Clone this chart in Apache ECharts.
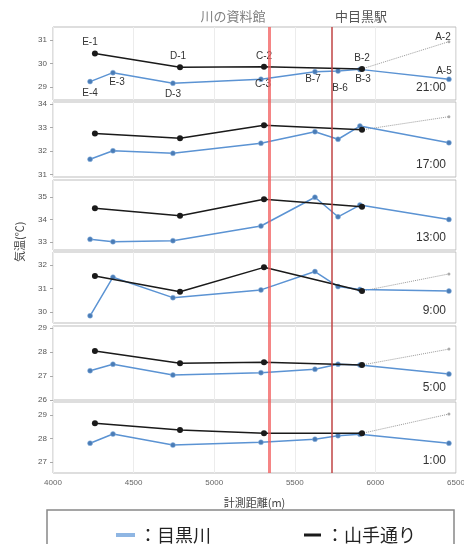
<!DOCTYPE html>
<html>
<head>
<meta charset="utf-8">
<script src="https://cdn.jsdelivr.net/npm/echarts@6.0.0/dist/echarts.min.js"></script>
<style>
html, body { margin: 0; padding: 0; background: #fff; }
#chart { width: 464px; height: 544px; }
</style>
</head>
<body>
<div id="chart"></div>
<script>
// 測定地点と計測距離(m)
var riverNames = ['E-4', 'E-3', 'D-3', 'C-3', 'B-7', 'B-6', 'B-3', 'A-5'];
var riverX = [4230, 4372, 4744, 5290, 5625, 5768, 5904, 6456];
var streetNames = ['E-1', 'D-1', 'C-2', 'B-2'];
var streetX = [4260, 4788, 5309, 5917];
var a2Name = 'A-2';
var a2X = 6456;
var stationNames = ['川の資料館', '中目黒駅'];
var stationX = [5340, 5731];
var times = ['21:00', '17:00', '13:00', '9:00', '5:00', '1:00'];
var xTicks = [4000, 4500, 5000, 5500, 6000, 6500];

// 気温(℃) 目黒川
var river21 = [29.23, 29.61, 29.16, 29.33, 29.65, 29.68, 29.75, 29.33];
var river17 = [31.65, 32.01, 31.90, 32.33, 32.82, 32.50, 33.06, 32.35];
var river13 = [33.12, 33.01, 33.06, 33.71, 34.99, 34.12, 34.64, 34.00];
var river9  = [29.84, 31.48, 30.61, 30.94, 31.72, 31.08, 30.96, 30.89];
var river5  = [27.22, 27.49, 27.04, 27.14, 27.28, 27.49, 27.46, 27.08];
var river1  = [27.80, 28.19, 27.72, 27.84, 27.97, 28.12, 28.18, 27.80];
// 気温(℃) 山手通り
var street21 = [30.43, 29.84, 29.86, 29.77];
var street17 = [32.75, 32.54, 33.10, 32.90];
var street13 = [34.50, 34.17, 34.90, 34.57];
var street9  = [31.53, 30.86, 31.90, 30.89];
var street5  = [28.04, 27.53, 27.57, 27.46];
var street1  = [28.65, 28.36, 28.22, 28.22];
// A-2 (13:00 は欠測)
var a2Temps = [30.93, 33.46, null, 31.62, 28.12, 29.04];
// 各段の目盛
var yTicks = [[29, 30, 31], [31, 32, 33, 34], [33, 34, 35], [30, 31, 32], [26, 27, 28, 29], [27, 28, 29]];

var river = [river21, river17, river13, river9, river5, river1];
var street = [street21, street17, street13, street9, street5, street1];

// 段の配置
var panelTop = [27, 102, 180, 252, 326, 402];
var panelBottom = [100, 177, 250, 323, 400, 473];
var yRange = [[28.447, 31.553], [30.894, 34.085], [32.644, 35.756], [29.532, 32.553], [26, 29.083], [26.532, 29.553]];

var labelPos = {
    'E-1': ['top', [-5, 0]], 'D-1': ['top', [-2, 0]], 'C-2': ['top', [0, 0]], 'B-2': ['top', [0, 0]],
    'E-4': ['bottom', [0, 1]], 'E-3': ['bottom', [4, -1]], 'D-3': ['bottom', [0, 0]],
    'C-3': ['bottom', [2, -6]], 'B-7': ['bottom', [-2, -3]], 'B-6': ['bottom', [2, 6]],
    'B-3': ['bottom', [3, -1]], 'A-5': ['top', [-5, 3]], 'A-2': ['top', [-6, 5]]
};

var blue = '#5b93d3';
var blueDot = '#4a7cb6';
var black = '#1a1a1a';
var numFont = 'Liberation Sans';
var jpFont = 'Noto Sans CJK JP';

function makeData(xs, ys, names, withLabel) {
    var out = [];
    for (var k = 0; k < xs.length; k++) {
        var d = { name: names[k], value: [xs[k], ys[k]] };
        if (withLabel) {
            var p = labelPos[names[k]];
            d.label = { show: true, position: p[0], offset: p[1], formatter: '{b}',
                fontSize: 10, color: '#333', fontFamily: numFont, distance: 3 };
        }
        out.push(d);
    }
    return out;
}

var grids = [], xAxes = [], yAxes = [], series = [], graphics = [];

for (var i = 0; i < 6; i++) {
    grids.push({
        left: 53, right: 8, top: panelTop[i], height: panelBottom[i] - panelTop[i],
        outerBoundsMode: 'none', containLabel: false,
        show: true, borderColor: '#bdbdbd', borderWidth: 1, backgroundColor: '#fff'
    });
    xAxes.push({
        gridIndex: i, type: 'value', min: xTicks[0], max: xTicks[xTicks.length - 1], interval: 500,
        axisLine: { show: false }, axisTick: { show: false },
        splitLine: { show: true, lineStyle: { color: '#ececec' } },
        axisLabel: { show: i === 5, fontSize: 8, color: '#666', fontFamily: numFont, margin: 6,
                     formatter: function (v) { return String(v); } },
        name: i === 5 ? '計測距離(m)' : '', nameLocation: 'middle', nameGap: 24,
        nameTextStyle: { fontSize: 11, color: '#444', fontFamily: jpFont }
    });
    yAxes.push({
        gridIndex: i, type: 'value', min: yRange[i][0], max: yRange[i][1],
        axisLine: { show: false },
        axisTick: { show: true, customValues: yTicks[i], length: 3, lineStyle: { color: '#aaa' } },
        axisLabel: { customValues: yTicks[i], fontSize: 8, color: '#555', fontFamily: numFont, margin: 6 },
        splitLine: { show: false }
    });

    // 目黒川
    series.push({
        name: '目黒川', type: 'line', xAxisIndex: i, yAxisIndex: i,
        data: makeData(riverX, river[i], riverNames, i === 0),
        symbol: 'circle', symbolSize: 5,
        lineStyle: { color: blue, width: 1.5 },
        itemStyle: { color: blueDot, borderColor: '#8fb6e3', borderWidth: 0.5 },
        z: 3
    });
    // 山手通り
    series.push({
        name: '山手通り', type: 'line', xAxisIndex: i, yAxisIndex: i,
        data: makeData(streetX, street[i], streetNames, i === 0),
        symbol: 'circle', symbolSize: 6,
        lineStyle: { color: black, width: 1.5 },
        itemStyle: { color: black },
        z: 4
    });
    // B-2 → A-2
    if (a2Temps[i] !== null) {
        var a2Data = makeData([streetX[3], a2X], [street[i][3], a2Temps[i]], ['B-2', a2Name], false);
        a2Data[0].symbol = 'none';
        if (i === 0) {
            a2Data[1].label = { show: true, position: 'top', offset: labelPos['A-2'][1], formatter: '{b}',
                fontSize: 10, color: '#333', fontFamily: numFont, distance: 3 };
        }
        series.push({
            name: 'A-2', type: 'line', xAxisIndex: i, yAxisIndex: i,
            data: a2Data, symbol: 'circle', symbolSize: 3,
            lineStyle: { color: '#9a9a9a', width: 1, type: 'dotted' },
            itemStyle: { color: '#aaa' }, z: 2
        });
    }

    graphics.push({
        type: 'text', right: 18, top: panelBottom[i] - 18,
        style: { text: times[i], font: '12px ' + numFont, fill: '#333' }
    });
}

// 駅・施設の位置 (全段を通る縦線)
grids.push({ left: 53, right: 8, top: panelTop[0], bottom: 544 - panelBottom[5], show: false, outerBoundsMode: 'none' });
xAxes.push({ gridIndex: 6, type: 'value', min: 4000, max: 6500, show: false });
yAxes.push({ gridIndex: 6, type: 'value', min: 0, max: 1, show: false });
series.push({
    type: 'line', xAxisIndex: 6, yAxisIndex: 6, data: [], silent: true, z: 5,
    markLine: {
        symbol: 'none', silent: true, animation: false,
        data: [
            { xAxis: stationX[0], lineStyle: { color: '#f25c5c', width: 3, opacity: 0.75, type: 'solid' },
              label: { show: true, position: 'end', formatter: stationNames[0], offset: [-36, 0],
                       fontSize: 13, color: '#555', fontFamily: jpFont, distance: 4 } },
            { xAxis: stationX[1], lineStyle: { color: '#c04444', width: 1.5, type: 'solid' },
              label: { show: true, position: 'end', formatter: stationNames[1], offset: [29, 0],
                       fontSize: 13, color: '#555', fontFamily: jpFont, distance: 4 } }
        ]
    }
});

graphics.push({
    type: 'text', x: 14, y: 262, rotation: Math.PI / 2,
    style: { text: '気温(℃)', font: '11px ' + jpFont, fill: '#444' }
});
graphics.push({
    type: 'rect', shape: { x: 47, y: 510, width: 407, height: 40 },
    style: { fill: 'none', stroke: '#888', lineWidth: 1.5 }
});

var myChart = echarts.init(document.getElementById('chart'));
myChart.setOption({
    animation: false,
    grid: grids,
    xAxis: xAxes,
    yAxis: yAxes,
    legend: [
        { data: [{ name: '目黒川', itemStyle: { color: blue } }], left: 111, top: 521,
          icon: 'rect', itemWidth: 17, itemHeight: 2, formatter: '：{name}',
          textStyle: { fontSize: 18, color: '#222', fontFamily: jpFont } },
        { data: [{ name: '山手通り', itemStyle: { color: black } }], left: 299, top: 521,
          icon: 'rect', itemWidth: 17, itemHeight: 3, formatter: '：{name}',
          textStyle: { fontSize: 18, color: '#222', fontFamily: jpFont } }
    ],
    graphic: graphics,
    series: series
});
</script>
</body>
</html>
